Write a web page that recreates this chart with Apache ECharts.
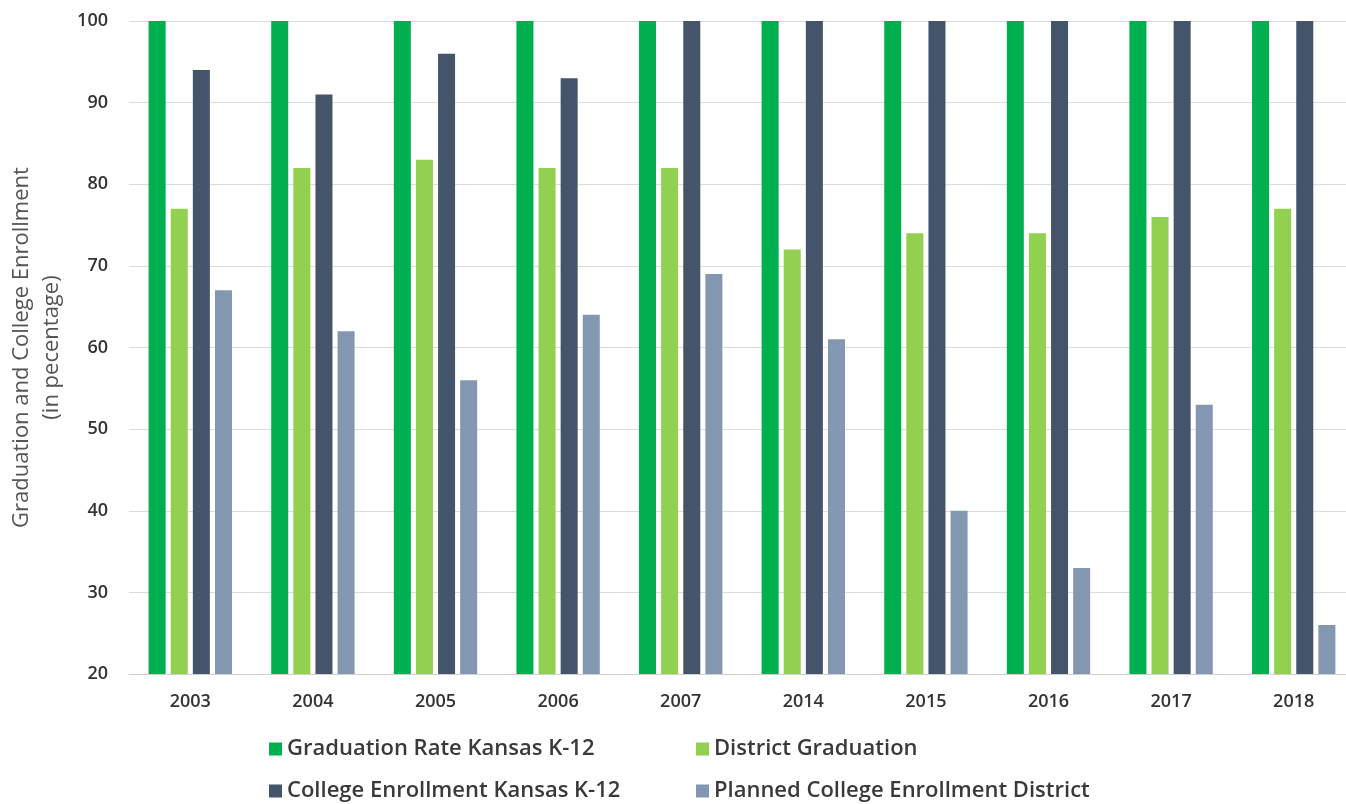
<!DOCTYPE html>
<html><head><meta charset="utf-8">
<script src="https://cdn.jsdelivr.net/npm/echarts@6/dist/echarts.min.js"></script>
<style>html,body{margin:0;padding:0;background:#fff}#c{width:1346px;height:804px}</style>
</head><body><div id="c"></div>
<script>
const categories = ['2003','2004','2005','2006','2007','2014','2015','2016','2017','2018'];
const gradKansas = [100,100,100,100,100,100,100,100,100,100];
const districtGrad = [77,82,83,82,82,72,74,74,76,77];
const collegeKansas = [94,91,96,93,100,100,100,100,100,100];
const plannedDistrict = [67,62,56,64,69,61,40,33,53,26];
const seriesNames = ['Graduation Rate Kansas K-12','District Graduation','College Enrollment Kansas K-12','Planned College Enrollment District'];
const yTicks = [20,30,40,50,60,70,80,90,100];

const colors = ['#00b050','#92d050','#44546a','#8497b0'];
const font = '"Open Sans", "Noto Sans", sans-serif';
const legendPos = [[269,738],[696,738],[269,780],[696,780]];
const chart = echarts.init(document.getElementById('c'));
const dataArr = [gradKansas, districtGrad, collegeKansas, plannedDistrict];
chart.setOption({
  animation:false,
  color: colors,
  textStyle:{fontFamily:font},
  legend: seriesNames.map((n,i)=>({
    data:[n], left:legendPos[i][0], top:legendPos[i][1], icon:'rect',
    itemWidth:13, itemHeight:13, itemGap:6, padding:0,
    textStyle:{fontSize:22, fontWeight:600, color:'#3a3a3a', fontFamily:font}
  })),
  grid:{left:129, right:-9, top:21, bottom:130, containLabel:false, outerBoundsMode:'none'},
  xAxis:{
    type:'category', data:categories,
    axisTick:{show:false},
    axisLine:{lineStyle:{color:'#d0d0d0'}},
    axisLabel:{fontSize:18, fontWeight:600, color:'#333', margin:19}
  },
  yAxis:{
    type:'value', min:20, max:100, interval:10,
    name:'Graduation and College Enrollment\n(in pecentage)',
    nameLocation:'middle', nameGap:62, nameRotate:90, nameMoveOverlap:false,
    nameTextStyle:{fontSize:22, color:'#555', lineHeight:30},
    axisLine:{show:false}, axisTick:{show:false},
    splitLine:{lineStyle:{color:'#dcdcdc'}},
    axisLabel:{fontSize:18, fontWeight:600, color:'#333', margin:21,
      formatter:v=>yTicks.includes(v)?String(v):''}
  },
  series: seriesNames.map((n,i)=>({
    name:n, type:'bar', data:dataArr[i],
    barGap:'30%', barCategoryGap:'32%'
  }))
});
</script></body></html>
